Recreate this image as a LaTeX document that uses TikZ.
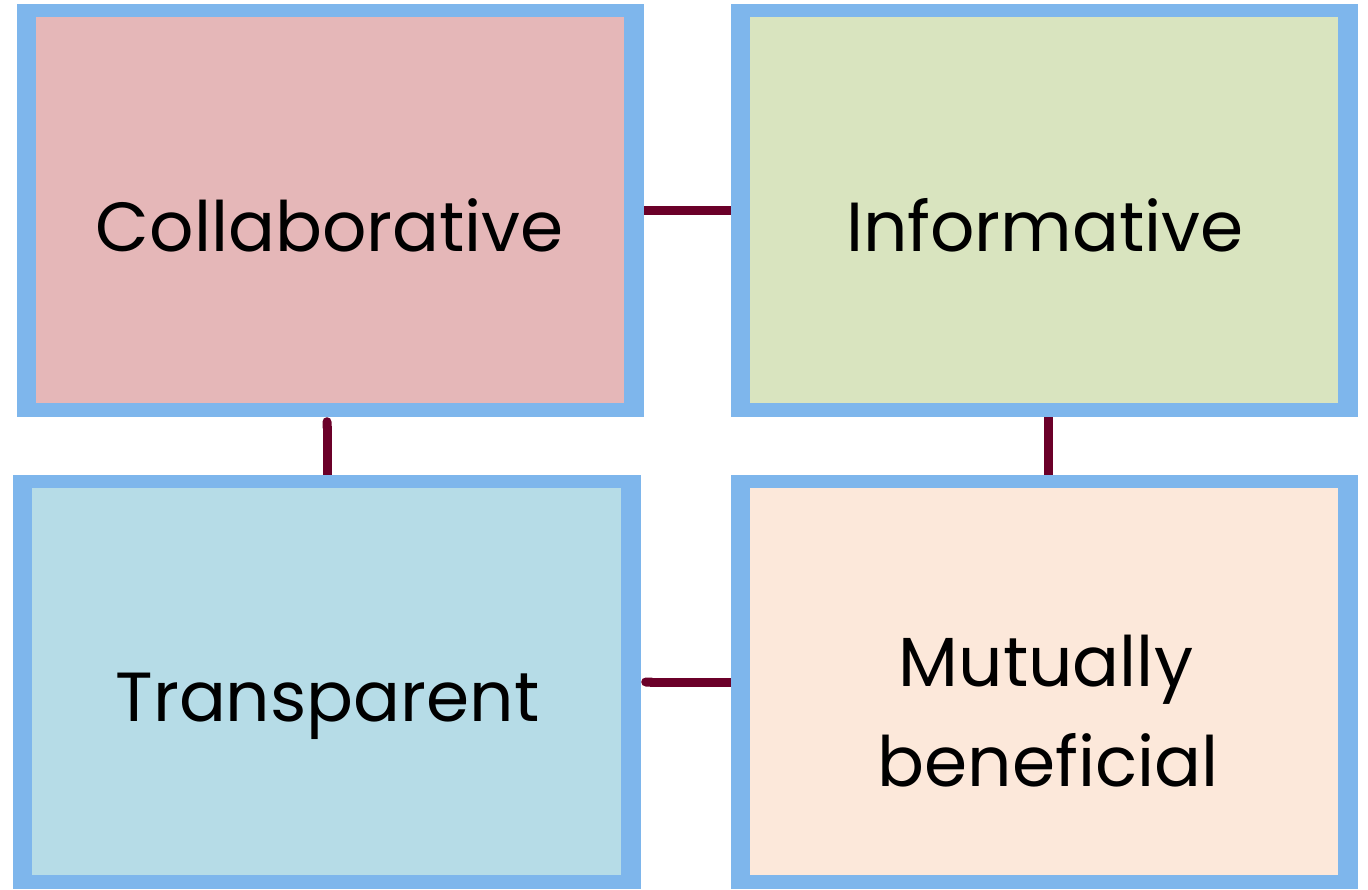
\documentclass[tikz,border=0pt]{standalone}
\usepackage{fontspec}
\setmainfont{Poppins}
\usetikzlibrary{arrows.meta}
\definecolor{bordblue}{HTML}{7EB6EC}
\definecolor{fpink}{HTML}{E5B7B8}
\definecolor{fgreen}{HTML}{D9E4BF}
\definecolor{fblue}{HTML}{B6DCE7}
\definecolor{fpeach}{HTML}{FCE8DA}
\definecolor{conncol}{HTML}{6B0029}
\tikzset{
  outerbox/.style={fill=bordblue, draw=none},
  innerbox/.style={draw=none},
  lbl/.style={font=\fontsize{69.5}{100}\selectfont, inner sep=0pt, text=black},
  conn/.style={draw=conncol, line width=9pt},
}
\begin{document}
\begin{tikzpicture}[x=1pt,y=-1pt]
\useasboundingbox (0,0) rectangle (1368,889);
% outer frames
\path[outerbox] (17,4) rectangle (644,417);
\path[outerbox] (731,4) rectangle (1358,417);
\path[outerbox] (13,475) rectangle (641,889);
\path[outerbox] (731,475) rectangle (1358,889);
% named nodes for the boxes (outer extents)
\node[inner sep=0pt, minimum width=627pt, minimum height=413pt] (c1) at (330.5,210.5) {};
\node[inner sep=0pt, minimum width=627pt, minimum height=413pt] (c2) at (1044.5,210.5) {};
\node[inner sep=0pt, minimum width=628pt, minimum height=414pt] (c3) at (327,682) {};
\node[inner sep=0pt, minimum width=627pt, minimum height=414pt] (c4) at (1044.5,682) {};
% inner fills
\path[innerbox, fill=fpink] (36,17) rectangle (624,403);
\path[innerbox, fill=fgreen] (750,17) rectangle (1338,403);
\path[innerbox, fill=fblue] (32,488) rectangle (621,875);
\path[innerbox, fill=fpeach] (750,488) rectangle (1338,875);
% labels
\node[lbl, anchor=base] (t1) at (330,251) {Collaborative};
\node[lbl, anchor=base] (t2) at (1045,251) {Informative};
\node[lbl, anchor=base] (t3) at (327.5,721) {Transparent};
\node[lbl, anchor=base] (t4a) at (1046,686.7) {Mutually};
\node[lbl, anchor=base] (t4b) at (1048,786.7) {beneficial};
% connectors
\draw[conn] (c1.east) -- (c2.west);
\draw[conn, {Round Cap[]}-] (c3.north |- c1.south) -- (c3.north);
\draw[conn] ([xshift=4pt]c2.south) -- ([xshift=4pt]c4.north);
\draw[conn, {Round Cap[]}-] (c3.east) -- (c4.west);
\end{tikzpicture}
\end{document}
